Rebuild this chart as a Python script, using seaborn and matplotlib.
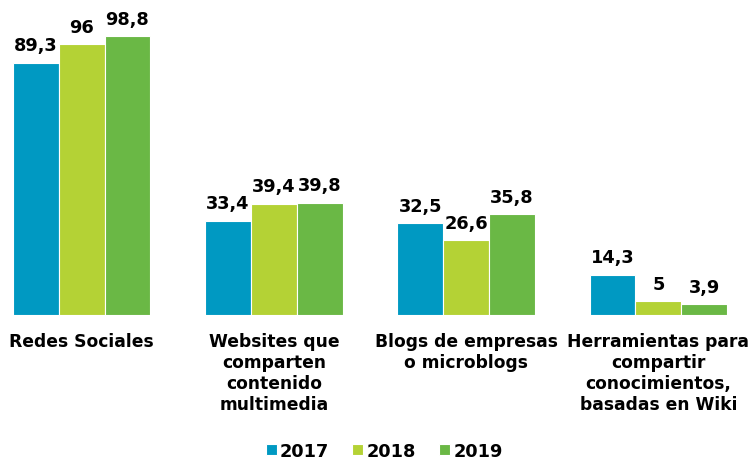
import pandas as pd
import matplotlib.pyplot as plt
import seaborn as sns

categories = ["Redes Sociales",
              "Websites que\ncomparten\ncontenido\nmultimedia",
              "Blogs de empresas\no microblogs",
              "Herramientas para\ncompartir\nconocimientos,\nbasadas en Wiki"]
years = ["2017", "2018", "2019"]
values_2017 = [89.3, 33.4, 32.5, 14.3]
values_2018 = [96.0, 39.4, 26.6, 5.0]
values_2019 = [98.8, 39.8, 35.8, 3.9]
colors = ["#0099C2", "#B4D235", "#6AB845"]

rows = []
for year, vals in zip(years, [values_2017, values_2018, values_2019]):
    for cat, v in zip(categories, vals):
        rows.append({"cat": cat, "year": year, "val": v})
df = pd.DataFrame(rows)

sns.set_style("white")
plt.rcParams["font.family"] = ["DejaVu Sans"]

fig = plt.figure(figsize=(7.5, 4.64), dpi=100)
ax = fig.add_axes([13 / 750, 148 / 464, 714 / 750, 282.4 / 464])

sns.barplot(data=df, x="cat", y="val", hue="year", palette=colors,
            saturation=1, width=0.714, edgecolor="white", linewidth=0.8, ax=ax)

ax.set_xlim(-0.357, 3.357)
ax.set_ylim(0, 100)

for container in ax.containers:
    labels = [f"{b.get_height():g}".replace(".", ",") for b in container]
    ax.bar_label(container, labels=labels, padding=6, fontsize=12.8,
                 fontweight="bold", color="black")

ax.set_xlabel("")
ax.set_ylabel("")
ax.set_yticks([])
ax.tick_params(axis="x", length=0, pad=12, colors="black")
for lbl in ax.get_xticklabels():
    lbl.set_fontsize(12.3)
    lbl.set_fontweight("bold")
    lbl.set_linespacing(1.22)
    lbl.set_verticalalignment("top")
sns.despine(ax=ax, left=True, bottom=True)

# legend sits a bit right of the axes centre in the original
leg = ax.legend(loc="center", bbox_to_anchor=(0.52, -136 / 282.4),
                ncol=3, frameon=False, handlelength=0.6, handleheight=0.6,
                handletextpad=0.2, columnspacing=1.3,
                prop={"size": 12.8, "weight": "bold"})
for t in leg.get_texts():
    t.set_color("black")

fig.savefig("out.png", dpi=100)
